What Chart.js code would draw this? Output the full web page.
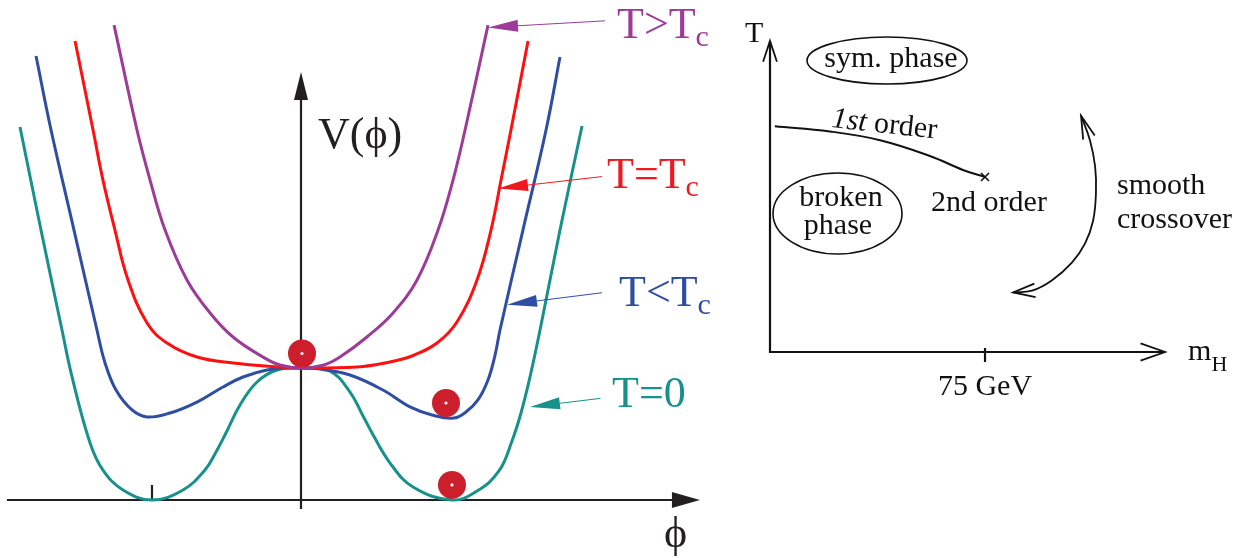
<!DOCTYPE html>
<html>
<head>
<meta charset="utf-8">
<title>Higgs potential and electroweak phase diagram</title>
<script src="https://cdn.jsdelivr.net/npm/chart.js@4.4.1/dist/chart.umd.min.js"></script>
<style>
  html, body { margin: 0; padding: 0; background: #fff; }
  .panel { position: absolute; top: 0; }
</style>
</head>
<body>
<canvas id="potential" class="panel" style="left:0" width="720" height="558"></canvas>
<canvas id="phases" class="panel" style="left:720px" width="513" height="558"></canvas>
<script>
// ---- left panel: V(phi) for four temperatures (phi in units of the T=0 minimum, V in units of V(0))
const phiT0 = [-1.88, -1.74, -1.60, -1.533, -1.413, -1.327, -1.193, -1.00, -0.793, -0.647, -0.573, -0.507, -0.413, -0.30, -0.167, 0,
               0.187, 0.32, 0.40, 0.467, 0.587, 0.74, 1.00, 1.167, 1.313, 1.40, 1.46, 1.52, 1.587, 1.72, 1.867];
const vT0   = [2.826, 2.045, 1.288, 0.932, 0.432, 0.227, 0.076, 0.00, 0.076, 0.227, 0.364, 0.508, 0.72, 0.894, 0.985, 1.00,
               0.977, 0.818, 0.652, 0.508, 0.28, 0.098, 0.00, 0.068, 0.22, 0.447, 0.659, 0.932, 1.288, 2.045, 2.833];

const phiBelow = [-1.773, -1.673, -1.52, -1.367, -1.313, -1.24, -1.133, -1.033, -0.88, -0.70, -0.527, -0.393, -0.233, -0.08,
                  0.12, 0.32, 0.54, 0.72, 0.867, 1.013, 1.093, 1.173, 1.24, 1.287, 1.32, 1.473, 1.627, 1.72];
const vBelow   = [3.364, 2.803, 2.045, 1.288, 1.038, 0.833, 0.682, 0.629, 0.659, 0.742, 0.856, 0.932, 0.985, 1.00,
                  0.992, 0.947, 0.833, 0.705, 0.644, 0.621, 0.667, 0.758, 0.909, 1.098, 1.288, 2.045, 2.803, 3.356];

const phiCrit = [-1.513, -1.393, -1.327, -1.247, -1.16, -1.033, -0.90, -0.70, -0.46, -0.147, 0,
                 0.367, 0.553, 0.733, 0.90, 1.033, 1.167, 1.26, 1.327, 1.393, 1.507];
const vCrit   = [3.477, 2.803, 2.424, 2.045, 1.667, 1.341, 1.189, 1.083, 1.038, 1.008, 1.00,
                 1.008, 1.038, 1.091, 1.189, 1.348, 1.667, 2.045, 2.424, 2.803, 3.477];

const phiAbove = [-1.253, -1.10, -1.013, -0.913, -0.767, -0.613, -0.46, -0.26, -0.147, 0, 0.147, 0.253, 0.433, 0.607, 0.767, 0.907, 1.007, 1.087, 1.24];
const vAbove   = [3.598, 2.803, 2.424, 2.045, 1.667, 1.417, 1.235, 1.083, 1.023, 1.00, 1.023, 1.083, 1.235, 1.417, 1.667, 2.045, 2.424, 2.803, 3.598];

// vacuum positions (red balls)
const ballPhi = [0, 0.96, 1.00];
const ballV   = [1.11, 0.735, 0.114];

// ---- right panel: phase diagram in (m_H [GeV], T [arb.])
const firstOrderMh = [1.7, 20.9, 38.4, 55.8, 67.3, 75];
const firstOrderT  = [1.29, 1.26, 1.21, 1.12, 1.04, 1.00];
const crossoverMh = [108.5, 111.6, 113.4, 113.7, 112.7, 109.9, 105.3, 98.4, 91.4, 84.8];
const crossoverT  = [1.35, 1.21, 1.06, 0.91, 0.75, 0.62, 0.51, 0.41, 0.35, 0.34];
const massTicks = [75];
const massTickLabels = ['75 GeV'];

const serif = '"Liberation Serif", "Times New Roman", serif';
const teal = '#17918b', blue = '#2f4ea3', red = '#ff1010', purple = '#9c3c98', ball = '#cc1f2b', ink = '#231f20';

const pts = (xs, ys) => xs.map((v, i) => ({x: v, y: ys[i]}));

function curve(label, xs, ys, color, order) {
  return {
    label, data: pts(xs, ys), showLine: true, borderColor: color, borderWidth: 3,
    pointRadius: 0, tension: 0.4, order
  };
}

function headFilled(ctx, fx, fy, tx, ty, len, half) {
  const a = Math.atan2(ty - fy, tx - fx);
  const bx = tx - len * Math.cos(a), by = ty - len * Math.sin(a);
  ctx.beginPath();
  ctx.moveTo(tx, ty);
  ctx.lineTo(bx - half * Math.sin(a), by + half * Math.cos(a));
  ctx.lineTo(bx + half * Math.sin(a), by - half * Math.cos(a));
  ctx.closePath();
  ctx.fill();
  return [bx, by];
}

function headOpen(ctx, ang, tx, ty, len, spread) {
  ctx.beginPath();
  ctx.moveTo(tx - len * Math.cos(ang - spread), ty - len * Math.sin(ang - spread));
  ctx.lineTo(tx, ty);
  ctx.lineTo(tx - len * Math.cos(ang + spread), ty - len * Math.sin(ang + spread));
  ctx.stroke();
}

function subLabel(ctx, x, y, main, sub, size, color) {
  ctx.fillStyle = color;
  ctx.font = size + 'px ' + serif;
  ctx.textAlign = 'left';
  ctx.textBaseline = 'alphabetic';
  ctx.fillText(main, x, y);
  if (sub) {
    const w = ctx.measureText(main).width;
    ctx.font = Math.round(size * 0.68) + 'px ' + serif;
    ctx.fillText(sub, x + w, y + 8);
  }
}

// curve labels with pointer arrows: [main, sub, colour, text x, baseline, tail phi, tail V, tip phi, tip V]
const curveLabels = [
  ['T>T', 'c', purple,    617, 38, 2.02, 3.63, 1.24, 3.58],
  ['T=T', 'c', '#f01820', 607, 188, 2.00, 2.45, 1.307, 2.36],
  ['T<T', 'c', blue,      619, 306, 2.00, 1.57, 1.367, 1.48],
  ['T=0', '',  teal,      612, 407, 1.99, 0.77, 1.52, 0.705]
];

const potentialDecor = {
  id: 'potentialDecor',
  beforeDatasetsDraw(chart) {
    const {ctx, scales: {x, y}} = chart;
    const x0 = x.getPixelForValue(0), y0 = y.getPixelForValue(0);
    ctx.save();
    ctx.strokeStyle = ink; ctx.fillStyle = ink; ctx.lineWidth = 2.2;
    // phi axis
    const xl = x.getPixelForValue(-1.967), xr = x.getPixelForValue(2.653);
    ctx.beginPath(); ctx.moveTo(xl, y0); ctx.lineTo(xr - 20, y0); ctx.stroke();
    headFilled(ctx, xl, y0, xr, y0, 28, 8);
    // V axis
    const yb = y.getPixelForValue(-0.068), yt = y.getPixelForValue(3.242);
    ctx.beginPath(); ctx.moveTo(x0 - 1, yb); ctx.lineTo(x0 - 1, yt + 20); ctx.stroke();
    headFilled(ctx, x0 - 1, yb, x0 - 1, yt, 28, 7);
    // tick at the T=0 minimum
    const xt = x.getPixelForValue(-1);
    ctx.beginPath(); ctx.moveTo(xt, y0); ctx.lineTo(xt, y0 - 15); ctx.stroke();
    ctx.restore();
  },
  afterDatasetsDraw(chart) {
    const {ctx, scales: {x, y}} = chart;
    ctx.save();
    // tiny white centres of the balls
    ctx.fillStyle = '#fff';
    ballPhi.forEach((p, i) => {
      ctx.beginPath();
      ctx.arc(x.getPixelForValue(p), y.getPixelForValue(ballV[i]), 1.6, 0, Math.PI * 2);
      ctx.fill();
    });
    // axis labels
    subLabel(ctx, 318, 148, 'V(ϕ)', '', 44, ink);
    subLabel(ctx, 664, 547, 'ϕ', '', 44, ink);
    // curve labels + arrows
    curveLabels.forEach(([m, s, col, tx, ty, p0, v0, p1, v1]) => {
      subLabel(ctx, tx, ty, m, s, 44, col);
      const fx = x.getPixelForValue(p0), fy = y.getPixelForValue(v0);
      const ex = x.getPixelForValue(p1), ey = y.getPixelForValue(v1);
      ctx.fillStyle = col; ctx.strokeStyle = col; ctx.lineWidth = 1;
      const [bx, by] = headFilled(ctx, fx, fy, ex, ey, 30, 6);
      ctx.beginPath(); ctx.moveTo(fx, fy); ctx.lineTo(bx, by); ctx.stroke();
    });
    ctx.restore();
  }
};

new Chart(document.getElementById('potential'), {
  type: 'scatter',
  data: {
    datasets: [
      {label: 'vacuum', data: pts(ballPhi, ballV), pointRadius: 14, pointHoverRadius: 14,
       backgroundColor: ball, borderWidth: 0, order: 0},
      curve('T>Tc', phiAbove, vAbove, purple, 1),
      curve('T=Tc', phiCrit, vCrit, red, 2),
      curve('T<Tc', phiBelow, vBelow, blue, 3),
      curve('T=0', phiT0, vT0, teal, 4)
    ]
  },
  options: {
    responsive: false,
    animation: false,
    layout: {padding: 0, autoPadding: false},
    plugins: {legend: {display: false}, tooltip: {enabled: false}},
    scales: {
      x: {type: 'linear', display: false, min: -2.0133, max: 2.7867},
      y: {type: 'linear', display: false, min: -0.4394, max: 3.7879}
    }
  },
  plugins: [potentialDecor]
});

// ---- right panel
const phaseDecor = {
  id: 'phaseDecor',
  afterDatasetsDraw(chart) {
    const {ctx, scales: {x, y}} = chart;
    const x0 = x.getPixelForValue(0), y0 = y.getPixelForValue(0);
    ctx.save();
    ctx.strokeStyle = '#111'; ctx.fillStyle = '#111'; ctx.lineWidth = 2.2;
    ctx.lineCap = 'butt';
    // axes
    const yt = y.getPixelForValue(1.777), xr = x.getPixelForValue(137.8);
    ctx.beginPath(); ctx.moveTo(x0, yt); ctx.lineTo(x0, y0); ctx.lineTo(xr, y0); ctx.stroke();
    ctx.lineWidth = 1.8;
    headOpen(ctx, -Math.PI / 2, x0, yt, 22, 0.32);
    headOpen(ctx, 0, xr, y0, 26, 0.34);
    // mass tick
    ctx.lineWidth = 2.2;
    massTicks.forEach((m, i) => {
      const px = x.getPixelForValue(m);
      ctx.beginPath(); ctx.moveTo(px, y0 - 4); ctx.lineTo(px, y0 + 10); ctx.stroke();
      ctx.font = '30px ' + serif; ctx.textAlign = 'center'; ctx.textBaseline = 'alphabetic';
      ctx.fillText(massTickLabels[i], px, 395);
    });
    // axis titles
    ctx.textAlign = 'left';
    ctx.font = '30px ' + serif;
    ctx.fillText('T', 25, 42);
    ctx.fillText('m', xr + 23, 360);
    const mw = ctx.measureText('m').width;
    ctx.font = '22px ' + serif;
    ctx.fillText('H', xr + 23 + mw, 371);
    // second order end point
    const cx = x.getPixelForValue(firstOrderMh[firstOrderMh.length - 1]);
    const cy = y.getPixelForValue(firstOrderT[firstOrderT.length - 1]);
    ctx.lineWidth = 1.6;
    ctx.beginPath();
    ctx.moveTo(cx - 4, cy - 4); ctx.lineTo(cx + 4, cy + 4);
    ctx.moveTo(cx - 4, cy + 4); ctx.lineTo(cx + 4, cy - 4);
    ctx.stroke();
    // crossover double arrow heads
    const ax = crossoverMh.map(v => x.getPixelForValue(v));
    const ay = crossoverT.map(v => y.getPixelForValue(v));
    const n = ax.length;
    ctx.lineWidth = 1.8;
    headOpen(ctx, Math.atan2(ay[0] - ay[1], ax[0] - ax[1]), ax[0], ay[0], 24, 0.26);
    headOpen(ctx, Math.atan2(ay[n - 1] - ay[n - 2], ax[n - 1] - ax[n - 2]), ax[n - 1], ay[n - 1], 23, 0.3);
    // phase ellipses
    ctx.lineWidth = 1.6;
    ctx.beginPath(); ctx.ellipse(167, 60.5, 80, 23.5, 0, 0, Math.PI * 2); ctx.stroke();
    ctx.beginPath(); ctx.ellipse(117.5, 213.5, 64.5, 40.5, 0, 0, Math.PI * 2); ctx.stroke();
    // region texts
    ctx.font = '30px ' + serif;
    ctx.textAlign = 'center';
    ctx.fillText('sym. phase', 171, 67);
    ctx.fillText('broken', 121, 206);
    ctx.fillText('phase', 118, 234);
    ctx.fillText('2nd order', 269, 211);
    ctx.textAlign = 'left';
    ctx.fillText('smooth', 397, 194);
    ctx.fillText('crossover', 397, 228);
    // 1st order, along the line
    ctx.translate(111, 127);
    ctx.rotate(0.11);
    ctx.font = 'italic 30px ' + serif;
    ctx.fillText('1st', 0, 0);
    const w = ctx.measureText('1st ').width;
    ctx.font = '30px ' + serif;
    ctx.fillText('order', w, 0);
    ctx.restore();
  }
};

new Chart(document.getElementById('phases'), {
  type: 'scatter',
  data: {
    datasets: [
      {label: '1st order', data: pts(firstOrderMh, firstOrderT), showLine: true, tension: 0.4,
       borderColor: '#111', borderWidth: 2, pointRadius: 0},
      {label: 'smooth crossover', data: pts(crossoverMh, crossoverT), showLine: true, tension: 0.4,
       borderColor: '#111', borderWidth: 1.8, pointRadius: 0}
    ]
  },
  options: {
    responsive: false,
    animation: false,
    layout: {padding: 0, autoPadding: false},
    plugins: {legend: {display: false}, tooltip: {enabled: false}},
    scales: {
      x: {type: 'linear', display: false, min: -17.44, max: 161.5},
      y: {type: 'linear', display: false, min: -1.177, max: 2.011}
    }
  },
  plugins: [phaseDecor]
});
</script>
</body>
</html>
